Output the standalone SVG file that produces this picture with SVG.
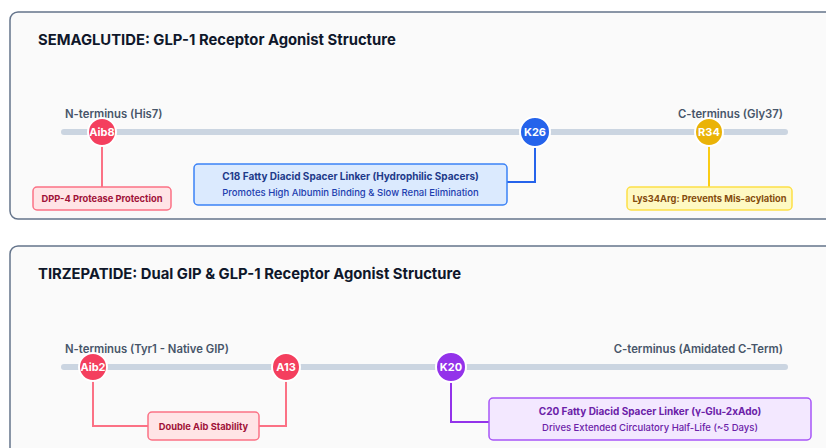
<svg xmlns="http://www.w3.org/2000/svg" width="826" height="448" viewBox="0 0 826 448">
  <style>
    text { font-family: Inter, "Noto Sans", "Liberation Sans", sans-serif; }
    .panel { fill: #fafafa; stroke: #64748b; stroke-width: 1.5; }
    .title { font-size: 14.8px; font-weight: 700; fill: #0f172a; }
    .backbone { stroke: #cbd5e1; stroke-width: 6; stroke-linecap: round; }
    .term { font-size: 11.3px; font-weight: 600; fill: #475569; }
    .res { stroke: #ffffff; stroke-width: 2; }
    .reslabel { font-size: 11px; font-weight: 700; fill: #ffffff; text-anchor: middle; }
    .wire { fill: none; stroke-width: 2; }
    .box { stroke-width: 1.5; }
    .lbl { font-size: 10px; font-weight: 700; text-anchor: middle; }
    .tag { font-size: 9.3px; font-weight: 700; text-anchor: middle; }
    .sub { font-size: 9.5px; font-weight: 500; text-anchor: middle; }
    .rose { fill: #f43f5e; }
    .blue { fill: #2563eb; }
    .amber { fill: #eab308; }
    .violet { fill: #9333ea; }
  </style>

  <!-- Semaglutide panel -->
  <g id="semaglutide-panel">
    <rect class="panel" x="10" y="12" width="830" height="207" rx="8"/>
    <text class="title" x="38" y="45">SEMAGLUTIDE: GLP-1 Receptor Agonist Structure</text>
    <line class="backbone" x1="64" y1="132" x2="785" y2="132"/>
    <text class="term" x="65" y="118">N-terminus (His7)</text>
    <text class="term" x="783" y="118" text-anchor="end">C-terminus (Gly37)</text>
  </g>

  <!-- Tirzepatide panel -->
  <g id="tirzepatide-panel">
    <rect class="panel" x="10" y="246" width="830" height="230" rx="8"/>
    <text class="title" x="38" y="279">TIRZEPATIDE: Dual GIP &amp; GLP-1 Receptor Agonist Structure</text>
    <line class="backbone" x1="64" y1="367" x2="785" y2="367"/>
    <text class="term" x="65" y="353">N-terminus (Tyr1 - Native GIP)</text>
    <text class="term" x="783" y="353" text-anchor="end">C-terminus (Amidated C-Term)</text>
  </g>

  <!-- Connectors from residues to annotation boxes -->
  <g id="connectors">
    <path class="wire" stroke="#fb7185" d="M102 146 V187"/>
    <path class="wire" stroke="#2563eb" d="M535 147 V182 H507"/>
    <path class="wire" stroke="#facc15" d="M709 146 V187"/>
    <path class="wire" stroke="#fb7185" d="M93 381 V426 H148"/>
    <path class="wire" stroke="#fb7185" d="M286 381 V426 H259"/>
    <path class="wire" stroke="#9333ea" d="M451 382 V422 H489"/>
  </g>

  <!-- Semaglutide residues -->
  <g id="aib8">
    <circle class="res rose" cx="102" cy="132" r="14"/>
    <text class="reslabel" x="102" y="136">Aib8</text>
  </g>
  <g id="k26">
    <circle class="res blue" cx="535" cy="132" r="15"/>
    <text class="reslabel" x="535" y="136">K26</text>
  </g>
  <g id="r34">
    <circle class="res amber" cx="709" cy="132" r="14"/>
    <text class="reslabel" x="709" y="136">R34</text>
  </g>

  <!-- Semaglutide annotations -->
  <g id="dpp4-box">
    <rect class="box" x="33" y="187" width="138" height="23" rx="4" fill="#ffe4e6" stroke="#fb7185"/>
    <text class="tag" x="102" y="202" fill="#9f1239">DPP-4 Protease Protection</text>
  </g>
  <g id="c18-box">
    <rect class="box" x="194" y="164" width="313" height="41" rx="4" fill="#dbeafe" stroke="#3b82f6"/>
    <text class="lbl" x="350.5" y="180" fill="#1e3a8a">C18 Fatty Diacid Spacer Linker (Hydrophilic Spacers)</text>
    <text class="sub" x="350.5" y="196" fill="#1e40af">Promotes High Albumin Binding &amp; Slow Renal Elimination</text>
  </g>
  <g id="lys34arg-box">
    <rect class="box" x="627" y="187" width="165" height="23" rx="4" fill="#fef9c3" stroke="#fde047"/>
    <text class="tag" x="709.5" y="202" fill="#854d0e">Lys34Arg: Prevents Mis-acylation</text>
  </g>

  <!-- Tirzepatide residues -->
  <g id="aib2">
    <circle class="res rose" cx="93" cy="367" r="14"/>
    <text class="reslabel" x="93" y="371">Aib2</text>
  </g>
  <g id="a13">
    <circle class="res rose" cx="286" cy="367" r="14"/>
    <text class="reslabel" x="286" y="371">A13</text>
  </g>
  <g id="k20">
    <circle class="res violet" cx="451" cy="367" r="15"/>
    <text class="reslabel" x="451" y="371">K20</text>
  </g>

  <!-- Tirzepatide annotations -->
  <g id="double-aib-box">
    <rect class="box" x="148" y="412" width="111" height="28" rx="4" fill="#ffe4e6" stroke="#fb7185"/>
    <text class="tag" x="203.5" y="430" fill="#9f1239">Double Aib Stability</text>
  </g>
  <g id="c20-box">
    <rect class="box" x="489" y="398" width="322" height="42" rx="4" fill="#f3e8ff" stroke="#a855f7"/>
    <text class="lbl" x="650" y="415" fill="#6b21a8">C20 Fatty Diacid Spacer Linker (γ-Glu-2xAdo)</text>
    <text class="sub" x="650" y="431" font-size="9.3" fill="#6b21a8">Drives Extended Circulatory Half-Life (~5 Days)</text>
  </g>
</svg>
